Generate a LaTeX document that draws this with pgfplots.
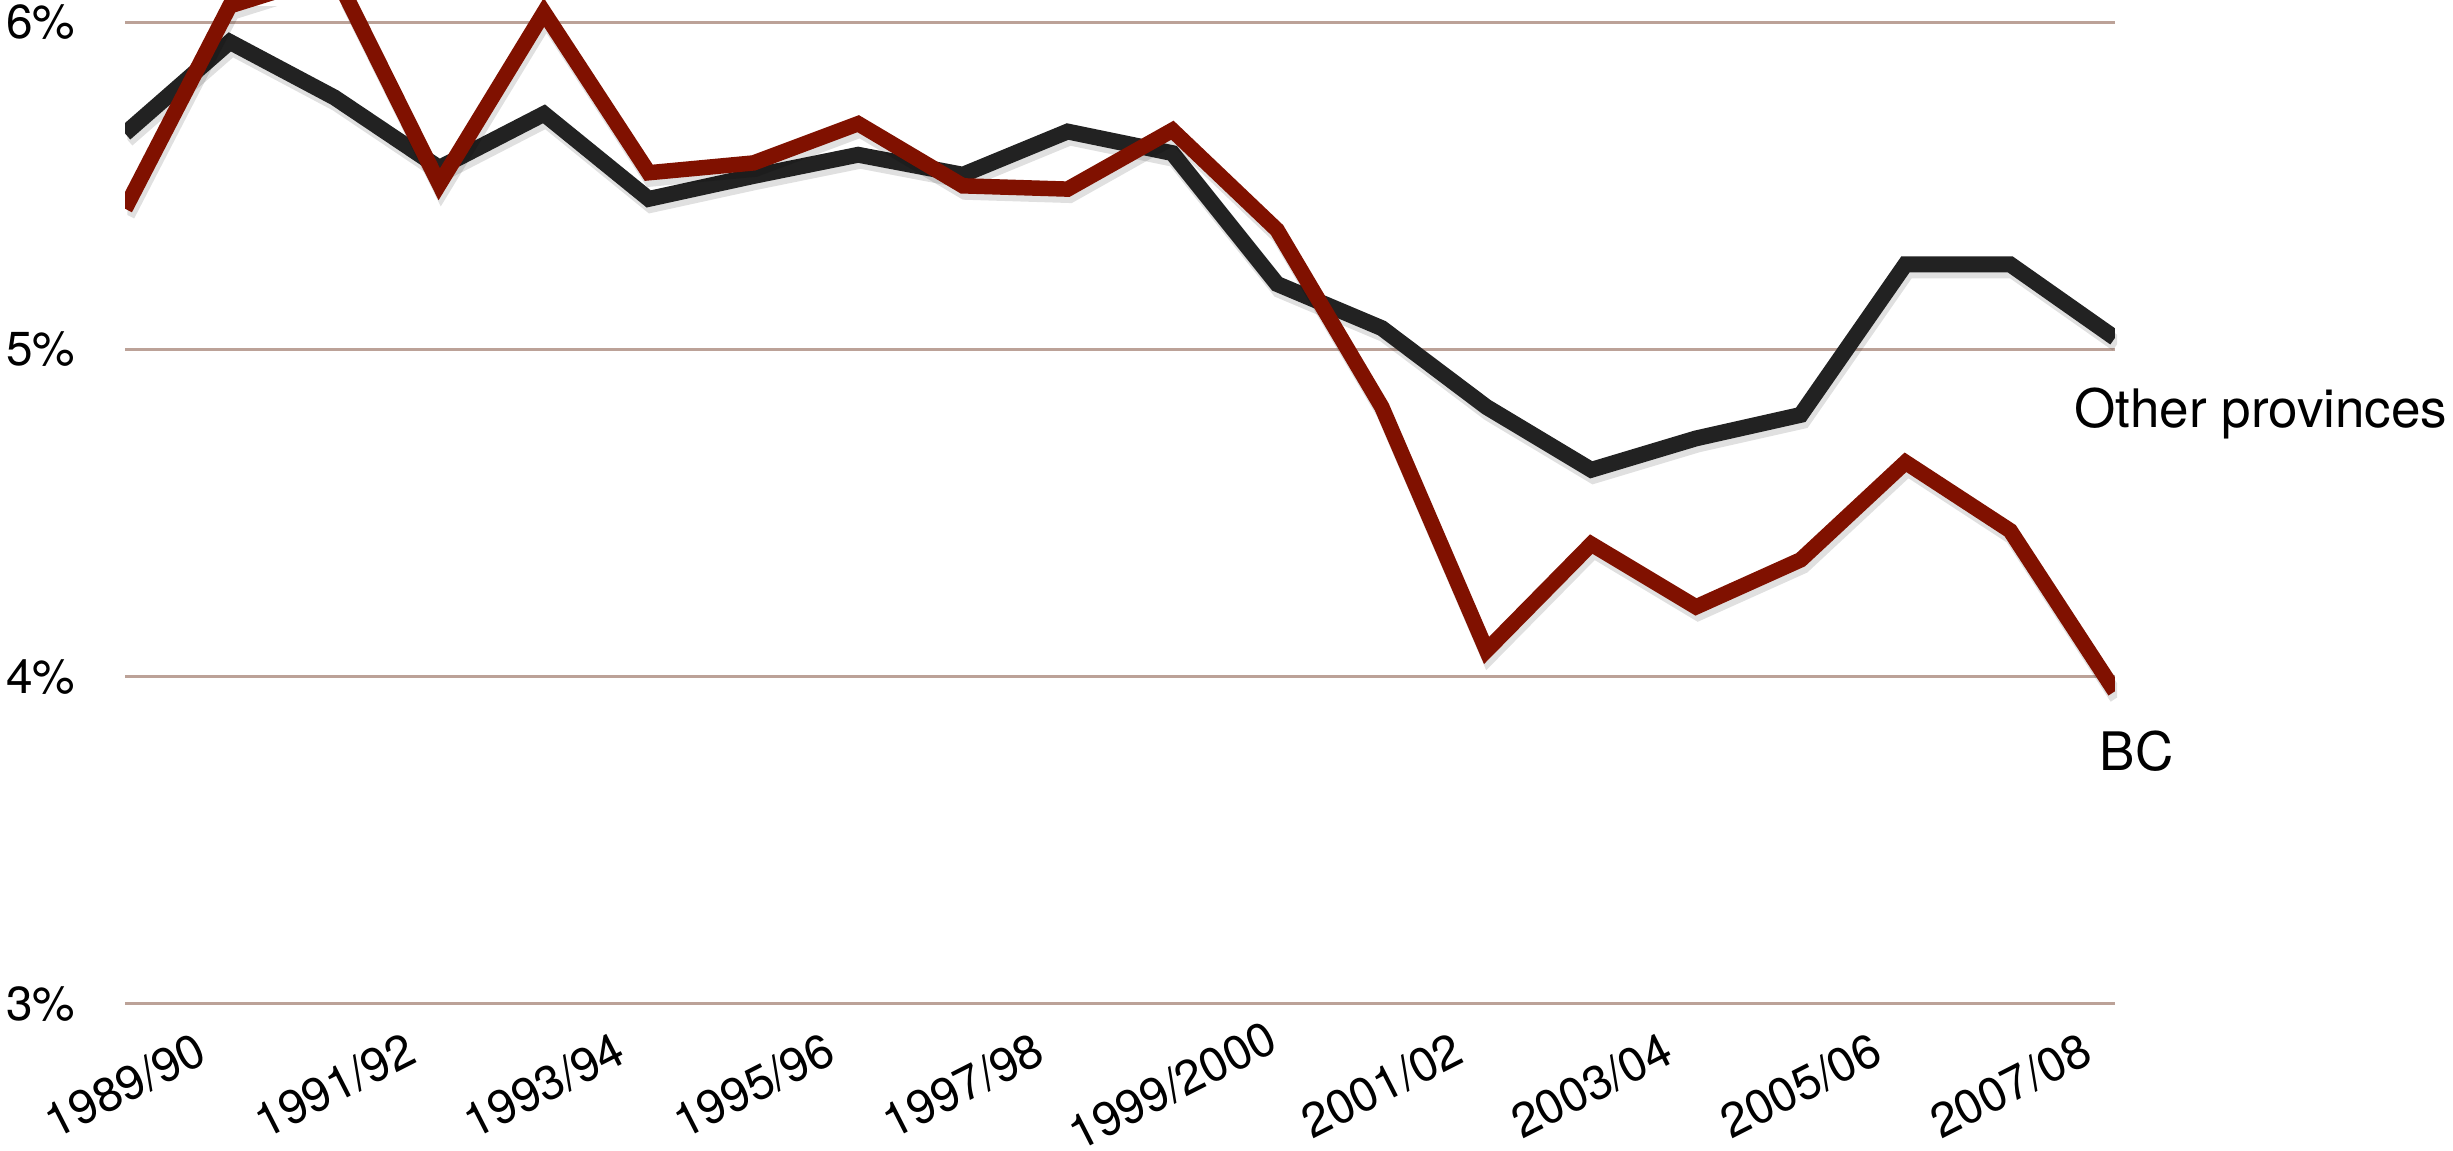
\documentclass[border=0pt]{standalone}
\usepackage{fontspec}
\setmainfont{TeX Gyre Heros}
\usepackage{pgfplots}
\usepackage{pgfplotstable}
\pgfplotsset{compat=1.18}
\definecolor{bcred}{RGB}{128,17,0}
\definecolor{othgray}{RGB}{34,34,34}
\definecolor{gridc}{RGB}{188,162,152}

\pgfplotstableread{
x y
0 5.66
1 5.94
2 5.77
3 5.555
4 5.72
5 5.46
6 5.53
7 5.595
8 5.534
9 5.666
10 5.60
11 5.20
12 5.065
13 4.824
14 4.632
15 4.728
16 4.80
17 5.26
18 5.26
19 5.035
}\othertable

\pgfplotstableread{
x y
0 5.43
1 6.05
2 6.15
3 5.505
4 6.03
5 5.54
6 5.57
7 5.69
8 5.50
9 5.49
10 5.67
11 5.365
12 4.824
13 4.08
14 4.405
15 4.213
16 4.357
17 4.655
18 4.446
19 3.955
}\bctable

\begin{document}
\begin{tikzpicture}
\begin{axis}[
  scale only axis,
  width=450.2pt, height=227.1pt,
  xmin=0, xmax=19, ymin=3, ymax=6.068,
  clip mode=individual,
  axis line style={draw=none},
  major tick length=0pt,
  xtick={0,2,...,18},
  xticklabels={1989/90,1991/92,1993/94,1995/96,1997/98,1999/2000,2001/02,2003/04,2005/06,2007/08},
  ytick={3,4,5,6},
  yticklabels={3\%,4\%,5\%,6\%},
  ymajorgrids,
  grid style={gridc, line width=0.6pt},
  tick label style={font=\fontsize{10.8}{12}\selectfont},
  yticklabel style={anchor=east, inner sep=0pt, xshift=-11.1pt},
  xticklabel style={anchor=center, inner sep=0pt, yshift=-18.4pt, rotate=27},
  line join=miter,
]
\addplot[draw=black, opacity=0.12, line width=3.5pt, xshift=0.5pt, yshift=-1.4pt, forget plot] table[x=x,y=y] {\othertable};
\addplot[draw=othgray, line width=3.6pt] table[x=x,y=y] {\othertable};
\addplot[draw=black, opacity=0.12, line width=3.5pt, xshift=0.5pt, yshift=-1.4pt, forget plot] table[x=x,y=y] {\bctable};
\addplot[draw=bcred, line width=3.5pt] table[x=x,y=y] {\bctable};
\node[anchor=base west, inner sep=0pt, xshift=-9.3pt, font=\fontsize{12}{14}\selectfont] at (axis cs:19,4.761) {Other provinces};
\node[anchor=base, inner sep=0pt, xshift=4.9pt, font=\fontsize{12}{14}\selectfont] at (axis cs:19,3.713) {BC};
\end{axis}
\pgfresetboundingbox
\path ([shift={(-28.3pt,-33.3pt)}]current axis.south west) rectangle ([shift={(76.5pt,0pt)}]current axis.north east);
\end{tikzpicture}
\end{document}
